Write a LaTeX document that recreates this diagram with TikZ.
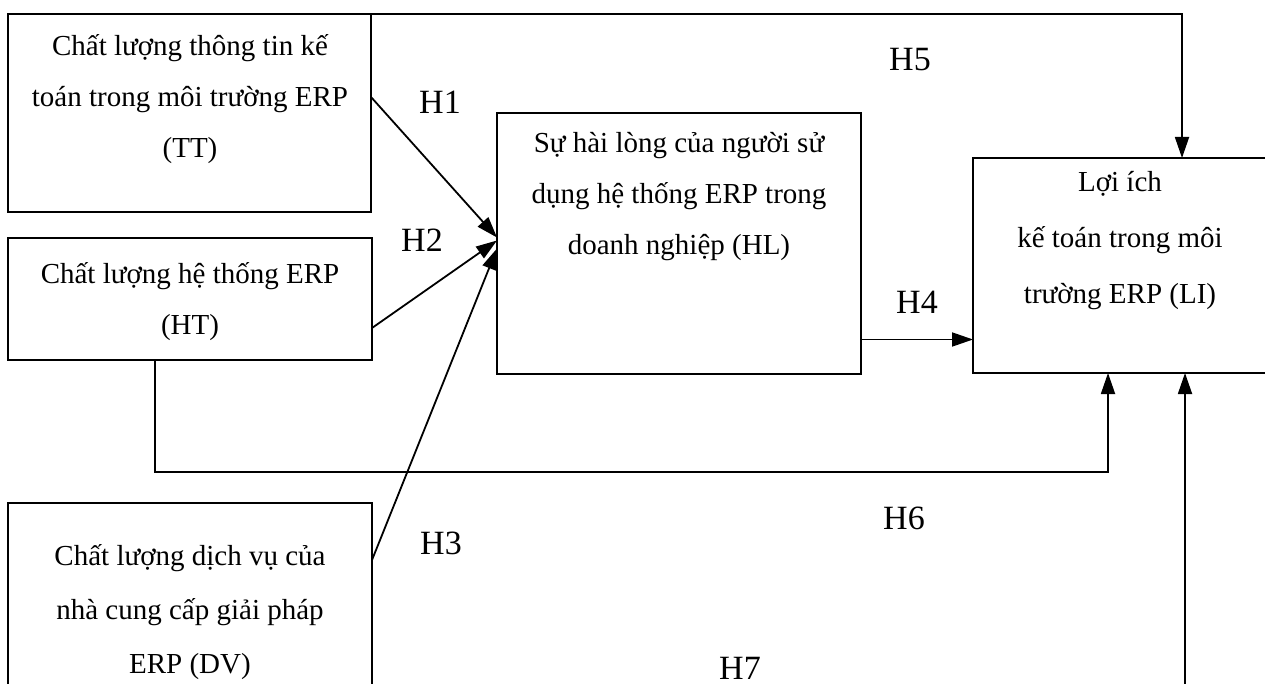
\documentclass[tikz,border=0pt]{standalone}
\usepackage{fontspec}
\setmainfont{Liberation Serif}
\usetikzlibrary{arrows.meta,calc}
\begin{document}
\begin{tikzpicture}[x=1pt,y=-1pt,
  box/.style={draw,line width=1.8pt,inner sep=0pt,outer sep=0pt,anchor=north west},
  txt/.style={align=center,font=\fontsize{29}{51}\selectfont,inner sep=0pt},
  hyp/.style={font=\fontsize{34}{36}\selectfont,inner sep=0pt},
  arr/.style={line width=1.8pt,-{Triangle[length=21pt,width=14pt]}},
  ln/.style={line width=1.8pt}]
\useasboundingbox (0,0) rectangle (1265,684);
% boxes
\node[box,minimum width=363pt,minimum height=198pt] (TT) at (8,14) {};
\node[box,minimum width=364pt,minimum height=122pt] (HT) at (8,238) {};
\node[box,minimum width=364pt,minimum height=230pt] (DV) at (8,503) {};
\node[box,minimum width=364pt,minimum height=261pt] (HL) at (497,113) {};
\node[box,minimum width=296pt,minimum height=215pt] (LI) at (973,158) {};
% texts
\node[txt] (TTt) at (190,99) {Chất lượng thông tin kế\\toán trong môi trường ERP\\(TT)};
\node[txt] (HTt) at (190,302) {Chất lượng hệ thống ERP\\(HT)};
\node[txt,font=\fontsize{29}{54}\selectfont] (DVt) at (190,612) {Chất lượng dịch vụ của\\nhà cung cấp giải pháp\\ERP (DV)};
\node[txt] (HLt) at (679,197) {Sự hài lòng của người sử\\dụng hệ thống ERP trong\\doanh nghiệp (HL)};
\node[txt,font=\fontsize{29}{56}\selectfont] (LIt) at (1120,241) {Lợi ích\\kế toán trong môi\\trường ERP (LI)};
% hypothesis labels
\node[hyp] (H1) at (440,102) {H1};
\node[hyp] (H2) at (422,240) {H2};
\node[hyp] (H3) at (441,543) {H3};
\node[hyp] (H4) at (917,302) {H4};
\node[hyp] (H5) at (910,60) {H5};
\node[hyp] (H6) at (904,518) {H6};
\node[hyp] (H7) at (740,668) {H7};
% connectors
\coordinate (c5) at (1182,14);
\draw[arr] (TT.north east) -- (c5) -- (c5 |- LI.north);
\draw[arr] ([yshift=16pt]TT.east) -- ([yshift=6pt]HL.west);
\draw[arr] ([yshift=-29pt]HT.east) -- ([yshift=3pt]HL.west);
\draw[arr] ([yshift=58pt]DV.east) -- ([yshift=-5pt]HL.west);
\draw[arr] ([yshift=-96pt]HL.east) coordinate (a4) -- (a4 -| LI.west);
\coordinate (c6) at (1108,472);
\draw[arr] ([xshift=-35pt]HT.south) |- (c6) -- (c6 |- LI.south);
\coordinate (c7) at (1185,690);
\draw[arr] (c7) -- (c7 |- LI.south);
\end{tikzpicture}
\end{document}
